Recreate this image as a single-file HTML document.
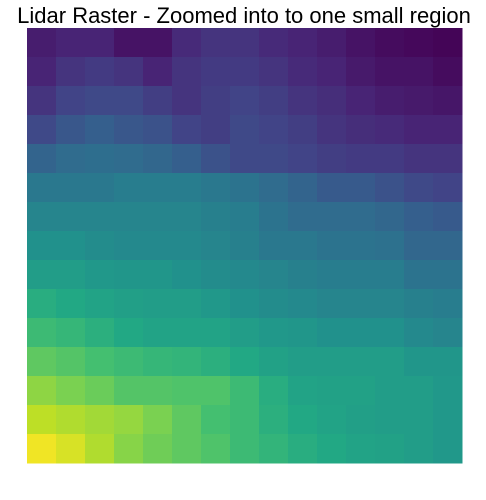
<!DOCTYPE html>
<html><head><meta charset="utf-8"><style>
html,body{margin:0;padding:0;background:#fff;width:486px;height:500px;overflow:hidden}
</style></head><body>
<svg id="chart" width="486" height="500" xmlns="http://www.w3.org/2000/svg">
<text x="244" y="23" text-anchor="middle" font-family="Liberation Sans, sans-serif" font-size="22" fill="#000">Lidar Raster - Zoomed into to one small region</text>
<g id="cells"></g>
</svg>
<script>
const rowsData = [
[0.08,0.1,0.1,0.05,0.05,0.12,0.15,0.15,0.12,0.1,0.08,0.05,0.03,0.02,0.01],
[0.1,0.15,0.17,0.15,0.1,0.15,0.17,0.17,0.15,0.12,0.1,0.07,0.05,0.05,0.03],
[0.15,0.2,0.22,0.22,0.18,0.15,0.18,0.2,0.18,0.15,0.13,0.1,0.08,0.07,0.06],
[0.22,0.27,0.3,0.27,0.25,0.2,0.18,0.22,0.2,0.18,0.15,0.13,0.12,0.1,0.1],
[0.32,0.35,0.36,0.35,0.33,0.3,0.25,0.22,0.22,0.2,0.18,0.17,0.17,0.15,0.15],
[0.40,0.40,0.40,0.42,0.42,0.42,0.40,0.38,0.35,0.32,0.28,0.28,0.25,0.22,0.20],
[0.45,0.45,0.45,0.45,0.45,0.45,0.43,0.42,0.38,0.35,0.35,0.35,0.33,0.30,0.28],
[0.50,0.50,0.48,0.47,0.47,0.47,0.45,0.43,0.40,0.40,0.38,0.38,0.37,0.33,0.33],
[0.55,0.55,0.53,0.52,0.52,0.50,0.48,0.47,0.45,0.43,0.42,0.42,0.42,0.38,0.38],
[0.62,0.60,0.58,0.56,0.55,0.55,0.53,0.50,0.48,0.47,0.45,0.45,0.45,0.43,0.42],
[0.68,0.66,0.63,0.60,0.58,0.58,0.58,0.55,0.53,0.52,0.50,0.50,0.50,0.47,0.45],
[0.75,0.73,0.70,0.68,0.66,0.65,0.63,0.60,0.57,0.55,0.55,0.55,0.55,0.52,0.52],
[0.83,0.80,0.77,0.73,0.73,0.72,0.72,0.68,0.62,0.58,0.57,0.57,0.55,0.55,0.53],
[0.90,0.88,0.86,0.84,0.80,0.75,0.70,0.68,0.63,0.60,0.58,0.56,0.55,0.55,0.53],
[0.98,0.94,0.88,0.82,0.78,0.75,0.72,0.68,0.65,0.62,0.60,0.58,0.57,0.55,0.53]
];
const viridisStops = ["#440154","#482475","#414487","#355f8d","#2a788e","#21918c","#22a884","#44bf70","#7ad151","#bddf26","#fde725"];
function hex(h){return [1,3,5].map(i=>parseInt(h.substr(i,2),16));}
function color(v){
  v=Math.max(0,Math.min(1,v));const p=v*10,i=Math.min(9,Math.floor(p)),t=p-i;
  const a=hex(viridisStops[i]),b=hex(viridisStops[i+1]);
  return "rgb("+a.map((c,k)=>Math.round(c+(b[k]-c)*t)).join(",")+")";
}
const x0=27,y0=28,W=435,H=435;
const nR=rowsData.length,nC=rowsData[0].length;
const xScale=c=>x0+c*W/nC, yScale=r=>y0+r*H/nR;
const g=document.getElementById('cells');
rowsData.forEach((row,r)=>row.forEach((v,c)=>{
  const el=document.createElementNS("http://www.w3.org/2000/svg","rect");
  
  
  el.setAttribute('x',xScale(c));el.setAttribute('y',yScale(r));
  el.setAttribute('width',W/nC+0.5);el.setAttribute('height',H/nR+0.5);
  el.setAttribute('fill',color(v));
  g.appendChild(el);
}));
</script>
</body></html>
